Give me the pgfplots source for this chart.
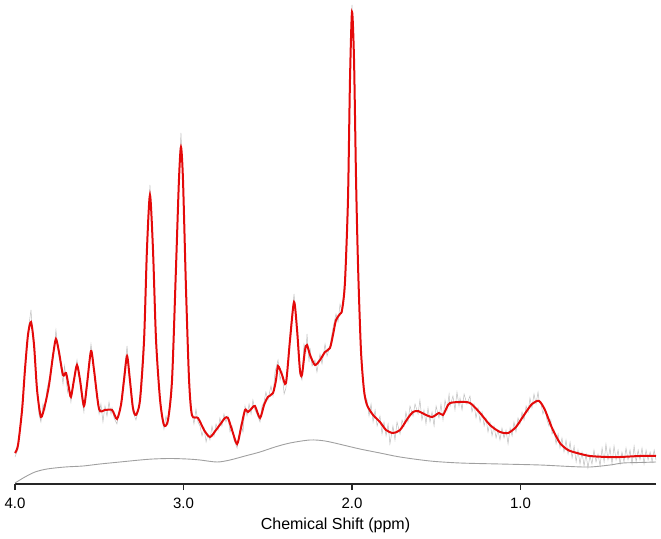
\documentclass[border=0pt]{standalone}
\usepackage{pgfplots}
\pgfplotsset{compat=1.18}
\usepackage{fontspec}
\setmainfont{Liberation Sans}
\definecolor{fitred}{RGB}{228,10,10}
\definecolor{rawgray}{RGB}{190,190,190}
\definecolor{basegray}{RGB}{160,160,160}
\begin{document}
\begin{tikzpicture}
\begin{axis}[
  scale only axis,
  width=641pt, height=484pt,
  xmin=0.196, xmax=4.0, ymin=0, ymax=484,
  x dir=reverse,
  axis x line=bottom, axis y line=none,
  axis line style={line width=1.2pt, color=black!85, -},
  xtick={4,3,2,1},
  xticklabels={4.0,3.0,2.0,1.0},
  tick style={line width=1.2pt, color=black!85},
  major tick length=6pt,
  tick align=outside,
  xticklabel style={font=\fontsize{15}{15}\selectfont, yshift=-4pt},
  xlabel={Chemical Shift (ppm)},
  xlabel style={font=\fontsize{16}{16}\selectfont, yshift=-3pt},
  clip=false,
]
\coordinate (bl) at (rel axis cs:0,0);
\coordinate (tr) at (rel axis cs:1,1);
% raw data (gray, noisy)
\addplot[rawgray, line width=0.5pt] coordinates {
(4.000,27) (3.982,35) (3.958,78) (3.941,110) (3.923,152) (3.905,174) (3.896,150) (3.887,135) (3.869,98) (3.858,70) (3.846,62) (3.834,80) (3.822,74) (3.810,95) (3.798,104) (3.786,112) (3.774,125) (3.757,154) (3.748,140) (3.739,128) (3.727,116) (3.715,100) (3.706,118) (3.697,106) (3.688,92) (3.680,100) (3.668,82) (3.659,95) (3.650,106) (3.632,124) (3.614,100) (3.603,85) (3.591,72) (3.582,90) (3.573,103) (3.561,120) (3.549,140) (3.540,128) (3.531,112) (3.516,90) (3.501,70) (3.490,80) (3.478,62) (3.466,78) (3.454,68) (3.442,82) (3.430,70) (3.424,76) (3.412,66) (3.395,60) (3.383,72) (3.371,82) (3.353,110) (3.335,138) (3.318,100) (3.300,72) (3.282,64) (3.270,72) (3.258,90) (3.234,150) (3.217,240) (3.199,299) (3.181,230) (3.163,140) (3.139,86) (3.128,70) (3.116,55) (3.104,68) (3.092,60) (3.068,110) (3.045,218) (3.027,310) (3.015,351) (3.003,300) (2.985,190) (2.967,100) (2.950,72) (2.938,60) (2.926,75) (2.914,62) (2.902,58) (2.890,48) (2.878,56) (2.866,42) (2.855,50) (2.843,44) (2.831,58) (2.819,48) (2.807,60) (2.795,54) (2.784,66) (2.772,58) (2.760,70) (2.748,62) (2.736,68) (2.724,52) (2.712,58) (2.700,44) (2.682,36) (2.671,48) (2.659,60) (2.647,52) (2.635,78) (2.623,68) (2.611,80) (2.599,70) (2.588,84) (2.576,74) (2.564,70) (2.546,62) (2.534,78) (2.522,82) (2.511,92) (2.499,84) (2.481,98) (2.469,88) (2.457,112) (2.439,124) (2.427,104) (2.415,112) (2.403,90) (2.392,96) (2.380,120) (2.368,150) (2.344,190) (2.326,150) (2.309,110) (2.297,104) (2.285,140) (2.273,132) (2.267,150) (2.255,122) (2.249,136) (2.237,118) (2.220,124) (2.208,112) (2.190,130) (2.178,120) (2.160,140) (2.148,128) (2.131,138) (2.113,156) (2.095,170) (2.083,162) (2.071,180) (2.059,172) (2.042,208) (2.024,290) (2.012,410) (2.000,479) (1.988,420) (1.976,300) (1.964,210) (1.947,140) (1.929,90) (1.911,84) (1.899,68) (1.887,80) (1.875,62) (1.863,74) (1.851,58) (1.834,68) (1.822,50) (1.810,62) (1.798,48) (1.786,60) (1.775,40) (1.757,58) (1.745,44) (1.733,62) (1.715,50) (1.703,64) (1.691,58) (1.680,72) (1.668,62) (1.656,78) (1.638,68) (1.626,80) (1.608,70) (1.597,84) (1.585,64) (1.573,74) (1.561,60) (1.549,76) (1.537,62) (1.525,72) (1.513,58) (1.501,78) (1.484,66) (1.472,80) (1.460,64) (1.448,84) (1.436,74) (1.424,90) (1.418,78) (1.401,88) (1.389,74) (1.377,92) (1.365,78) (1.359,86) (1.347,74) (1.335,90) (1.318,80) (1.300,88) (1.288,72) (1.276,80) (1.264,66) (1.252,76) (1.240,62) (1.228,72) (1.216,58) (1.205,66) (1.193,52) (1.181,62) (1.169,48) (1.157,58) (1.145,46) (1.134,54) (1.122,44) (1.110,56) (1.098,46) (1.086,54) (1.074,40) (1.062,56) (1.050,48) (1.039,62) (1.027,52) (1.015,66) (1.003,60) (0.991,72) (0.979,64) (0.967,78) (0.955,72) (0.944,86) (0.932,76) (0.920,90) (0.908,80) (0.896,92) (0.890,84) (0.878,80) (0.867,70) (0.855,76) (0.843,64) (0.831,58) (0.820,64) (0.813,50) (0.801,54) (0.789,40) (0.777,50) (0.766,36) (0.754,46) (0.742,32) (0.730,44) (0.718,30) (0.706,42) (0.694,26) (0.682,38) (0.670,22) (0.659,34) (0.647,20) (0.635,32) (0.623,18) (0.611,30) (0.600,16) (0.588,28) (0.576,20) (0.564,34) (0.552,22) (0.540,30) (0.528,18) (0.516,36) (0.504,22) (0.493,40) (0.481,24) (0.469,36) (0.457,20) (0.445,38) (0.433,24) (0.421,34) (0.409,20) (0.398,32) (0.386,22) (0.374,36) (0.362,24) (0.350,34) (0.338,20) (0.326,38) (0.314,22) (0.302,34) (0.291,24) (0.279,36) (0.267,20) (0.255,34) (0.243,24) (0.231,32) (0.219,22) (0.207,34) (0.196,24)
};
% baseline (gray)
\addplot[basegray, line width=0.9pt, smooth] coordinates {
(4.000,1) (3.941,7) (3.881,12) (3.810,15) (3.703,17) (3.596,18) (3.496,20) (3.377,22) (3.258,24) (3.181,25) (3.080,25.5) (2.979,25) (2.902,24) (2.801,22) (2.724,24) (2.635,28) (2.546,32) (2.457,37) (2.368,41) (2.249,44) (2.160,43) (2.053,39) (1.953,35) (1.834,31) (1.715,27) (1.537,23) (1.359,21) (1.122,20) (0.884,19) (0.706,17.5) (0.588,17) (0.469,19) (0.392,21) (0.291,21.5) (0.196,22)
};
% fit (red)
\addplot[fitred, line width=2pt, smooth, tension=0.45] coordinates {
(4.000,31) (3.982,39) (3.958,74) (3.941,114) (3.923,149) (3.905,162) (3.887,139) (3.869,94) (3.846,67) (3.822,79) (3.798,99) (3.774,129) (3.757,145) (3.739,132) (3.715,109) (3.697,111) (3.680,96) (3.668,87) (3.650,104) (3.632,119) (3.614,104) (3.591,78) (3.573,99) (3.549,133) (3.531,114) (3.501,75) (3.466,74) (3.424,74) (3.395,65) (3.371,79) (3.353,104) (3.335,128) (3.318,104) (3.300,76) (3.282,69) (3.258,84) (3.234,144) (3.217,234) (3.199,289) (3.181,234) (3.163,144) (3.139,84) (3.116,59) (3.092,64) (3.068,104) (3.045,214) (3.027,304) (3.015,337) (3.003,304) (2.985,194) (2.967,104) (2.950,69) (2.914,66) (2.878,54) (2.843,47) (2.807,54) (2.772,62) (2.754,66) (2.736,66) (2.712,54) (2.682,40) (2.659,56) (2.635,74) (2.617,72) (2.593,76) (2.576,78) (2.546,66) (2.522,79) (2.499,87) (2.469,91) (2.451,104) (2.439,118) (2.415,109) (2.392,101) (2.368,144) (2.344,182) (2.326,154) (2.309,114) (2.297,109) (2.279,134) (2.267,139) (2.249,129) (2.220,119) (2.190,124) (2.160,132) (2.131,136) (2.113,149) (2.095,164) (2.071,170) (2.059,174) (2.042,201) (2.024,284) (2.012,404) (2.000,472) (1.988,424) (1.976,304) (1.964,217) (1.947,134) (1.929,94) (1.911,79) (1.875,69) (1.834,62) (1.798,54) (1.757,51) (1.715,54) (1.668,66) (1.638,72) (1.608,73) (1.573,70) (1.525,67) (1.484,71) (1.460,69) (1.436,77) (1.418,81) (1.359,82) (1.300,81) (1.240,71) (1.181,59) (1.122,52) (1.074,51) (1.027,57) (0.979,69) (0.932,80) (0.890,83) (0.855,74) (0.813,56) (0.766,41) (0.718,34) (0.665,31) (0.588,28) (0.487,27) (0.409,27) (0.291,28) (0.196,28)
};
\end{axis}
\path (bl) ++(-15pt,-54pt) rectangle (tr) ++(5pt,0pt);
\end{tikzpicture}
\end{document}
